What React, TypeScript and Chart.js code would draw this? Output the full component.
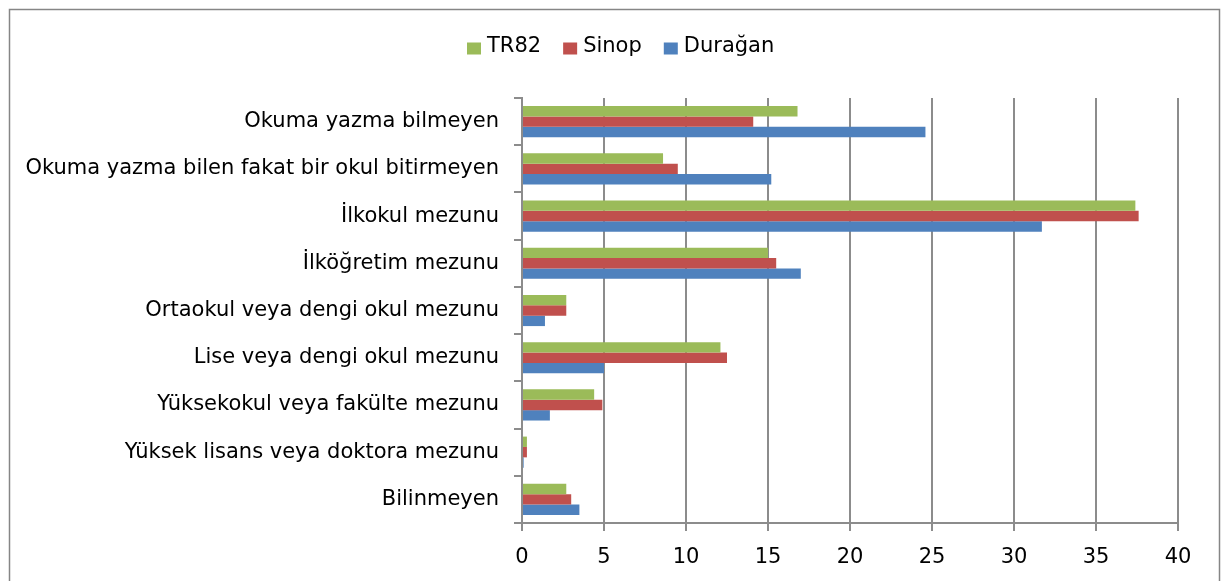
import React, { useEffect, useRef } from 'react';
import { Chart, registerables } from 'chart.js';

Chart.register(...registerables);

const categories = [
  'Okuma yazma bilmeyen',
  'Okuma yazma bilen fakat bir okul bitirmeyen',
  'İlkokul mezunu',
  'İlköğretim mezunu',
  'Ortaokul veya dengi okul mezunu',
  'Lise veya dengi okul mezunu',
  'Yüksekokul veya fakülte mezunu',
  'Yüksek lisans veya doktora mezunu',
  'Bilinmeyen',
];

const seriesNames = ['TR82', 'Sinop', 'Durağan'];
const tr82Values = [16.8, 8.6, 37.4, 15.0, 2.7, 12.1, 4.4, 0.3, 2.7];
const sinopValues = [14.1, 9.5, 37.6, 15.5, 2.7, 12.5, 4.9, 0.3, 3.0];
const duraganValues = [24.6, 15.2, 31.7, 17.0, 1.4, 5.0, 1.7, 0.1, 3.5];
const xTickValues = [0, 5, 10, 15, 20, 25, 30, 35, 40];

const COLORS = ['#9BBB59', '#C0504D', '#4F81BD'];
const FONT_FAMILY = '"DejaVu Sans", Verdana, sans-serif';
const GRID = '#8c8c8c';

const W = 1227;
const H = 581;

const frameAndLegend = {
  id: 'frameAndLegend',
  afterDraw(chart: any) {
    const ctx = chart.ctx;
    ctx.save();
    ctx.strokeStyle = '#868686';
    ctx.lineWidth = 1.5;
    ctx.strokeRect(9.5, 9.5, 1210, 600);

    ctx.font = `21px ${FONT_FAMILY}`;
    ctx.textBaseline = 'middle';
    ctx.textAlign = 'left';
    const boxW = 14;
    const boxH = 12;
    const gap = 6;
    const spacing = 22;
    let x = 467;
    const cy = 47;
    seriesNames.forEach((n, i) => {
      const w = ctx.measureText(n).width;
      ctx.fillStyle = COLORS[i];
      ctx.fillRect(x, cy + 1.5 - boxH / 2, boxW, boxH);
      ctx.fillStyle = '#000';
      ctx.fillText(n, x + boxW + gap, cy);
      x += boxW + gap + w + spacing;
    });
    ctx.restore();
  },
};

export default function App() {
  const ref = useRef<HTMLCanvasElement | null>(null);

  useEffect(() => {
    if (!ref.current) return;
    const valueLists = [tr82Values, sinopValues, duraganValues];
    const chart = new Chart(ref.current, {
      type: 'bar',
      data: {
        labels: categories,
        datasets: seriesNames.map((name, i) => ({
          label: name,
          data: valueLists[i],
          backgroundColor: COLORS[i],
          borderWidth: 0,
          barPercentage: 1,
          categoryPercentage: 0.66,
        })),
      },
      options: {
        indexAxis: 'y',
        responsive: false,
        animation: false,
        devicePixelRatio: 1,
        layout: { padding: { top: 98, right: 49, bottom: 0, left: 0 } },
        plugins: {
          legend: { display: false },
          tooltip: { enabled: false },
          title: { display: false },
        },
        scales: {
          x: {
            type: 'linear',
            min: 0,
            max: 40,
            afterBuildTicks: (scale: any) => {
              scale.ticks = xTickValues.map((v) => ({ value: v }));
            },
            afterFit: (scale: any) => {
              scale.height = 58;
            },
            grid: {
              color: GRID,
              lineWidth: 2,
              tickLength: 8,
              drawTicks: true,
            },
            border: { color: GRID, width: 2 },
            ticks: {
              color: '#000',
              padding: 14,
              font: { family: FONT_FAMILY, size: 21 },
            },
          },
          y: {
            type: 'category',
            offset: true,
            afterFit: (scale: any) => {
              scale.width = 522;
            },
            grid: {
              offset: true,
              drawOnChartArea: false,
              drawTicks: true,
              tickLength: 8,
              color: GRID,
              lineWidth: 2,
            },
            border: { color: GRID, width: 2 },
            ticks: {
              color: '#000',
              padding: 15,
              autoSkip: false,
              font: { family: FONT_FAMILY, size: 21 },
            },
          },
        },
      },
      plugins: [frameAndLegend],
    });
    return () => chart.destroy();
  }, []);

  return (
    <div style={{ position: 'fixed', left: 0, top: 0, width: W, height: H, background: '#fff' }}>
      <canvas ref={ref} width={W} height={H} style={{ display: 'block', width: W, height: H }} />
    </div>
  );
}
